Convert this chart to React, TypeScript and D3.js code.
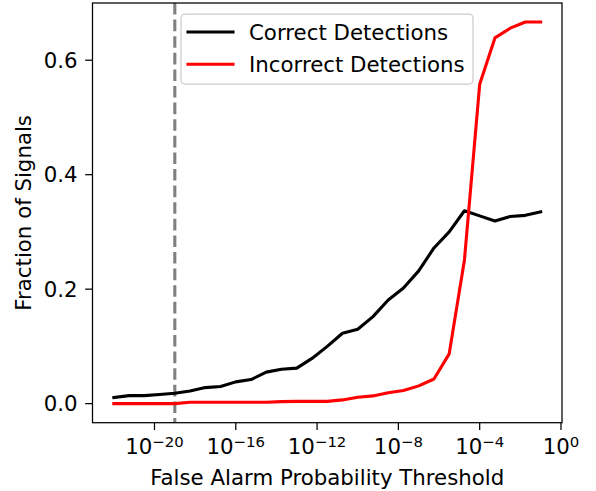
import React from "react";
import * as d3 from "d3";

// False-alarm probability thresholds (log10 exponents)
const thresholdExponents = [
  -22, -21.25, -20.5, -19.75, -19, -18.25, -17.5, -16.75, -16, -15.25,
  -14.5, -13.75, -13, -12.25, -11.5, -10.75, -10, -9.25, -8.5, -7.75,
  -7, -6.25, -5.5, -4.75, -4, -3.25, -2.5, -1.75, -1,
];

const correctDetections = [
  0.0105, 0.014, 0.014, 0.016, 0.018, 0.022, 0.028, 0.030, 0.038, 0.042,
  0.055, 0.060, 0.062, 0.079, 0.100, 0.123, 0.130, 0.152, 0.181, 0.202,
  0.232, 0.272, 0.300, 0.337, 0.328, 0.319, 0.327, 0.329, 0.335,
];

const incorrectDetections = [
  0, 0, 0, 0, 0, 0.0025, 0.0025, 0.0025, 0.0025, 0.0025,
  0.0025, 0.0035, 0.004, 0.004, 0.004, 0.0065, 0.011, 0.0135, 0.019, 0.023,
  0.031, 0.043, 0.087, 0.251, 0.558, 0.639, 0.656, 0.6667, 0.6667,
];

const xTickExponents = [-20, -16, -12, -8, -4, 0];
const yTicks = [0.0, 0.2, 0.4, 0.6];
const cutoffExponent = -19;

const seriesNames = ["Correct Detections", "Incorrect Detections"];
const seriesColors = ["#000000", "#ff0000"];

const W = 596;
const H = 491;
const left = 92.5;
const right = 562;
const top = 3;
const bottom = 422.7;
const font = "DejaVu Sans, sans-serif";
const fs = 21.3;

export default function App() {
  const x = d3
    .scaleLog()
    .domain([Math.pow(10, -23.05), Math.pow(10, 0.05)])
    .range([left, right]);
  const y = d3.scaleLinear().domain([-0.03333, 0.7]).range([bottom, top]);

  const line = d3
    .line<number>()
    .x((_, i) => x(Math.pow(10, thresholdExponents[i])))
    .y((d) => y(d));

  const series = [correctDetections, incorrectDetections];
  const cutX = x(Math.pow(10, cutoffExponent));

  return (
    <svg
      width={W}
      height={H}
      style={{ position: "absolute", left: 0, top: 0, background: "#fff" }}
      fontFamily={font}
    >
      <rect x={0} y={0} width={W} height={H} fill="#fff" />
      {/* cutoff marker */}
      <line
        x1={cutX}
        x2={cutX}
        y1={top}
        y2={bottom}
        stroke="#808080"
        strokeWidth={3.1}
        strokeDasharray="11.6 5"
      />
      {series.map((s, k) => (
        <path
          key={k}
          d={line(s) || ""}
          fill="none"
          stroke={seriesColors[k]}
          strokeWidth={3.1}
          strokeLinejoin="round"
          strokeLinecap="square"
        />
      ))}
      {/* frame */}
      <rect
        x={left}
        y={top}
        width={right - left}
        height={bottom - top}
        fill="none"
        stroke="#000"
        strokeWidth={1.25}
      />
      {/* x axis ticks */}
      {xTickExponents.map((e) => {
        const px = x(Math.pow(10, e));
        const sup = e === 0 ? "0" : "\u2212" + Math.abs(e);
        return (
          <g key={e}>
            <line x1={px} x2={px} y1={bottom} y2={bottom + 7.3} stroke="#000" strokeWidth={1.25} />
            <text x={px} y={454} textAnchor="middle" fontSize={fs} fill="#000">
              <tspan>10</tspan>
              <tspan fontSize={14.9} dy={-7.5}>{sup}</tspan>
            </text>
          </g>
        );
      })}
      {/* y axis ticks */}
      {yTicks.map((t) => {
        const py = y(t);
        return (
          <g key={t}>
            <line x1={left - 7.3} x2={left} y1={py} y2={py} stroke="#000" strokeWidth={1.25} />
            <text x={77.5} y={py + 7.7} textAnchor="end" fontSize={fs} fill="#000">
              {t.toFixed(1)}
            </text>
          </g>
        );
      })}
      <text x={(left + right) / 2} y={484.5} textAnchor="middle" fontSize={fs} fill="#000">
        False Alarm Probability Threshold
      </text>
      <text
        transform={`translate(30.5, ${(top + bottom) / 2}) rotate(-90)`}
        textAnchor="middle"
        fontSize={fs}
        fill="#000"
      >
        Fraction of Signals
      </text>
      {/* legend */}
      <rect
        x={181}
        y={14}
        width={292}
        height={70}
        rx={4}
        ry={4}
        fill="#fff"
        fillOpacity={0.8}
        stroke="#cccccc"
        strokeWidth={1.25}
      />
      {seriesNames.map((n, k) => {
        const ly = 32 + k * 32.3;
        return (
          <g key={n}>
            <line x1={188} x2={233} y1={ly} y2={ly} stroke={seriesColors[k]} strokeWidth={3.1} strokeLinecap="square" />
            <text x={249} y={ly + 7.7} fontSize={fs} fill="#000">
              {n}
            </text>
          </g>
        );
      })}
    </svg>
  );
}
